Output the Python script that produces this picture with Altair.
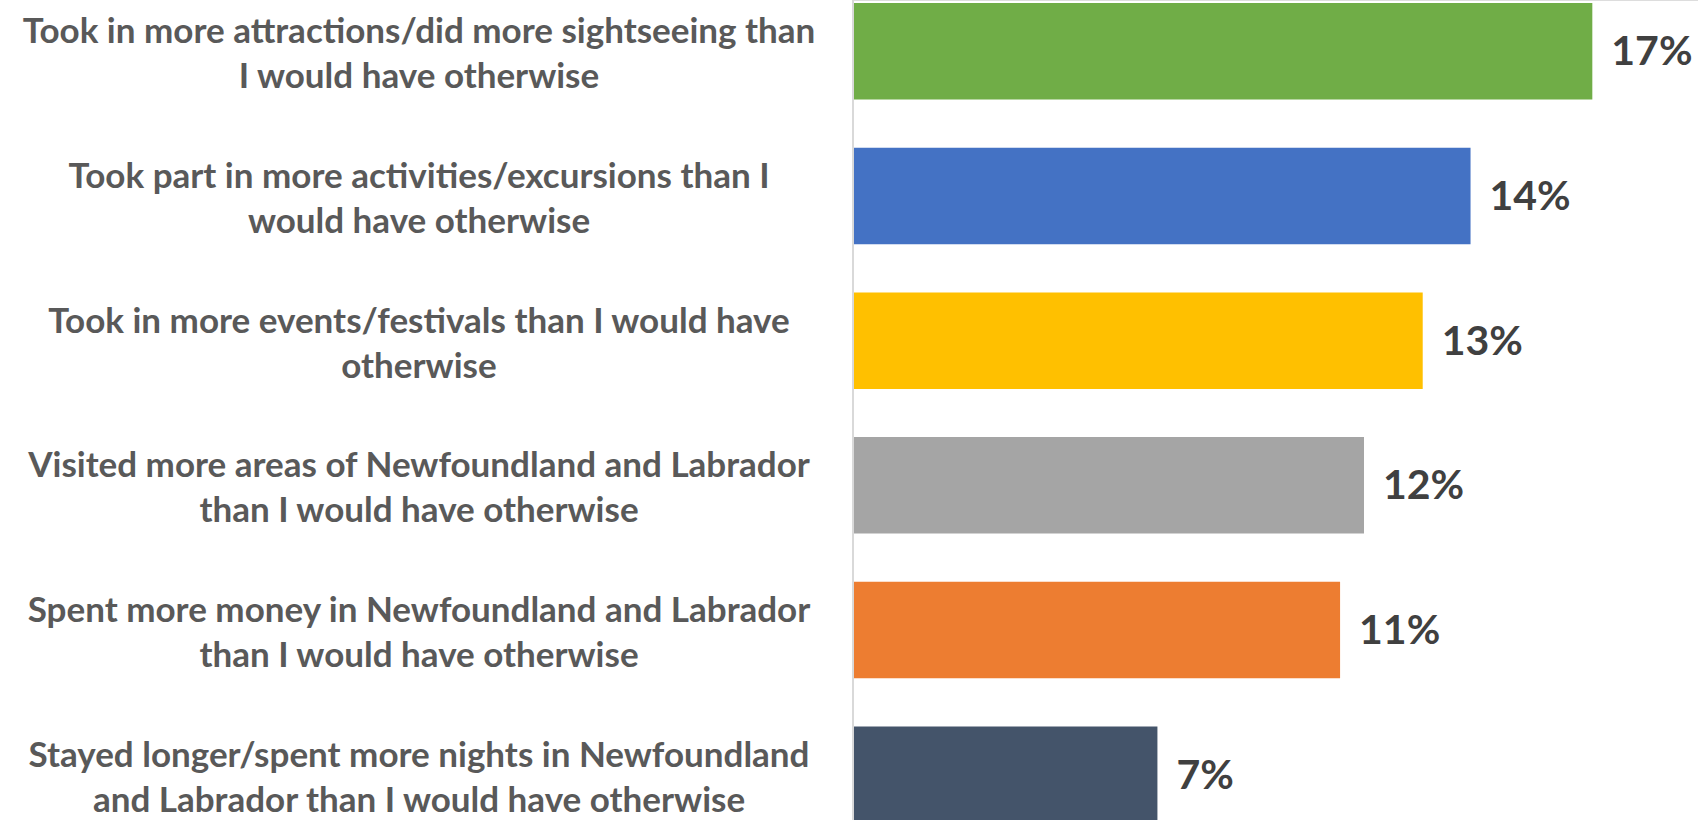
import altair as alt
import pandas as pd

categories = [
    "Took in more attractions/did more sightseeing than\nI would have otherwise",
    "Took part in more activities/excursions than I\nwould have otherwise",
    "Took in more events/festivals than I would have\notherwise",
    "Visited more areas of Newfoundland and Labrador\nthan I would have otherwise",
    "Spent more money in Newfoundland and Labrador\nthan I would have otherwise",
    "Stayed longer/spent more nights in Newfoundland\nand Labrador than I would have otherwise",
]
values = [17.0, 14.2, 13.1, 11.75, 11.2, 7.0]
colors = ["#70AD47", "#4472C4", "#FFC000", "#A5A5A5", "#ED7D31", "#44546A"]

df = pd.DataFrame({"cat": categories, "value": values, "color": colors})
df["label"] = [f"{round(v)}%" for v in values]

y_scale = alt.Scale(domain=categories, range=[-21, 847], paddingInner=0.333, paddingOuter=0.1667)
y_enc = alt.Y("cat:N", sort=categories, scale=y_scale, axis=None)
x_scale = alt.Scale(domain=[0, 19.43], nice=False, zero=True)

base = alt.Chart(df)
bars = base.mark_bar(clip=True).encode(
    x=alt.X("value:Q", scale=x_scale, axis=None),
    y=y_enc,
    color=alt.Color("color:N", scale=None, legend=None),
)
texts = base.mark_text(
    align="left", baseline="middle", dx=19, dy=2, font="Lato", fontWeight="bold",
    fontSize=41, color="#404040",
).encode(
    x=alt.X("value:Q", scale=x_scale),
    y=alt.Y("cat:N", sort=categories, scale=y_scale),
    text="label:N",
)
cat_labels = base.mark_text(
    align="center", baseline="middle", dy=-19, lineBreak="\n", lineHeight=45,
    font="Lato", fontWeight="bold", fontSize=35, color="#595959",
).encode(
    x=alt.value(-434),
    y=alt.Y("cat:N", sort=categories, scale=y_scale),
    text="cat:N",
)
rule = alt.Chart(pd.DataFrame({"z": [0]})).mark_rule(color="#D9D9D9", strokeWidth=2).encode(
    x=alt.X("z:Q", scale=x_scale)
)

chart = alt.layer(bars, rule, texts, cat_labels).properties(
    width=845, height=820,
    autosize=alt.AutoSizeParams(type="none"),
    padding={"left": 853, "top": 0, "right": 0, "bottom": 0},
).configure_view(stroke=None).configure(background="white")

chart.save("out.html", embed_options={"renderer": "svg", "actions": False})
